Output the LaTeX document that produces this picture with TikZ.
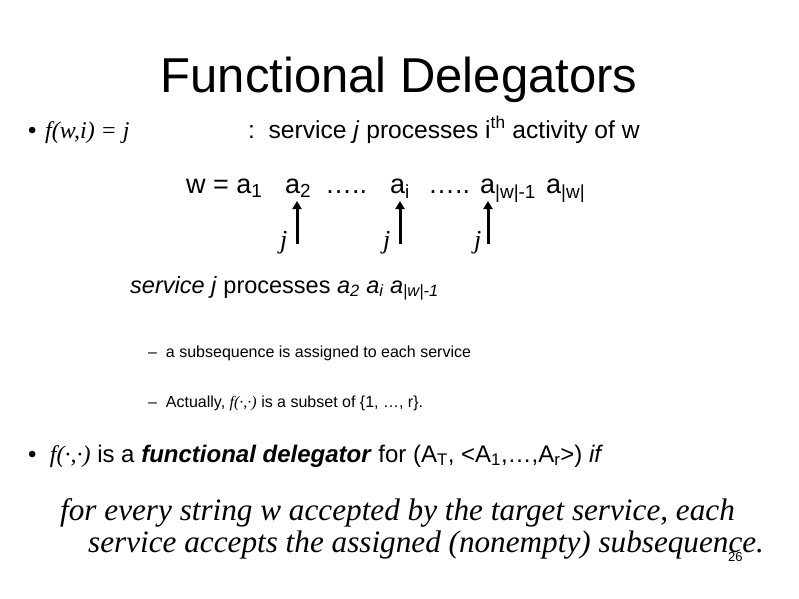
\documentclass[tikz,border=0pt]{standalone}
\usepackage{fontspec}
\usetikzlibrary{arrows.meta}
\setmainfont{Liberation Sans}
\newfontfamily\serifit{Liberation Serif}[ItalicFont=* Italic]
\begin{document}
\begin{tikzpicture}[x=1pt,y=-1pt,
  txt/.style={anchor=base west,inner sep=0pt},
  wfont/.style={txt,font=\fontsize{27}{30}\selectfont},
  arr/.style={line width=3pt,-{Triangle[length=8pt,width=9pt]}}]
\useasboundingbox (0,0) rectangle (799,598);
\node[anchor=base,inner sep=0pt,font=\fontsize{49}{54}\selectfont] (title) at (399,92) {Functional Delegators};
\node[txt,font=\fontsize{24}{28}\selectfont] (b1) at (28,138) {•};
\node[txt,font=\fontsize{24}{28}\selectfont\serifit\itshape] (f1) at (45,138) {f(w,i) = j};
\node[txt,font=\fontsize{24.6}{28}\selectfont] (l1) at (248,138) {:\ \ service \textit{j} processes i\textsuperscript{th} activity of w};
\node[wfont] (w0) at (186,193) {w = a\textsubscript{1}};
\node[wfont] (w1) at (285,193) {a\textsubscript{2}};
\node[wfont] (w2) at (325,193) {…..};
\node[wfont] (w3) at (390,193) {a\textsubscript{i}};
\node[wfont] (w4) at (428,193) {…..};
\node[wfont] (w5) at (480,193) {a\textsubscript{|w|-1}};
\node[wfont] (w6) at (546,193) {a\textsubscript{|w|}};
\node[txt,font=\fontsize{26}{30}\selectfont\serifit\itshape] (j1) at (280,248) {j};
\node[txt,font=\fontsize{26}{30}\selectfont\serifit\itshape] (j2) at (383,248) {j};
\node[txt,font=\fontsize{26}{30}\selectfont\serifit\itshape] (j3) at (474,248) {j};
\coordinate (s1) at (297,244); \coordinate (e1) at (297,201);
\coordinate (s2) at (400,244); \coordinate (e2) at (400,201);
\coordinate (s3) at (488,244); \coordinate (e3) at (488,201);
\draw[arr] (s1) -- (e1);
\draw[arr] (s2) -- (e2);
\draw[arr] (s3) -- (e3);
\node[txt,font=\fontsize{23.5}{26}\selectfont] (sv) at (130,293) {\textit{service j} processes \textit{a\textsubscript{2} a\textsubscript{i} a\textsubscript{|w|-1}}};
\node[txt,font=\fontsize{16}{19}\selectfont] (d1) at (148,357) {–\ \ a subsequence is assigned to each service};
\node[txt,font=\fontsize{16}{19}\selectfont] (d2) at (148,407) {–\ \ Actually, {\serifit\itshape f(·,·)} is a subset of \{1, …, r\}.};
\node[txt,font=\fontsize{24}{28}\selectfont] (b2) at (28,462) {•\ \ {\serifit\itshape f(·,·)} is a \textbf{\textit{functional delegator}} for (A\textsubscript{T}, <A\textsubscript{1},…,A\textsubscript{r}>) \textit{if}};
\node[txt,font=\fontsize{31.2}{34}\selectfont\serifit\itshape] (c1) at (60,520) {for every string w accepted by the target service, each};
\node[txt,font=\fontsize{31.2}{34}\selectfont\serifit\itshape] (c2) at (88,552) {service accepts the assigned (nonempty) subsequence.};
\node[txt,font=\fontsize{13}{15}\selectfont] (pg) at (728,561) {26};
\end{tikzpicture}
\end{document}
